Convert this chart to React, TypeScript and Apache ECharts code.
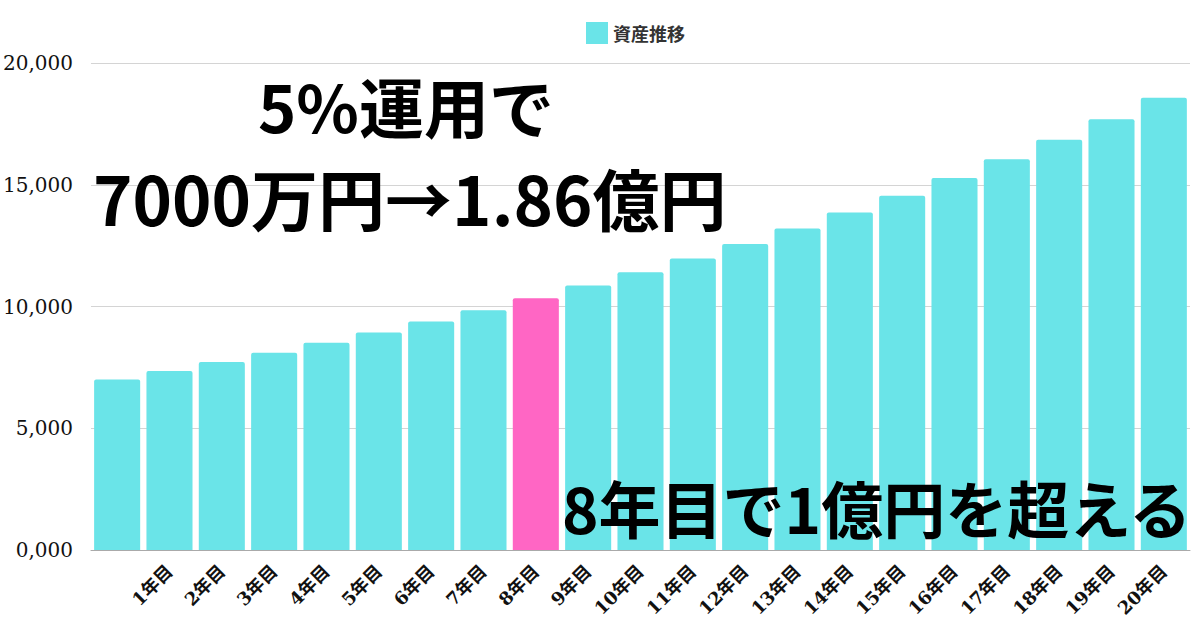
import React, { useEffect, useRef } from "react";
import * as echarts from "echarts";

const categories = ["", "1年目", "2年目", "3年目", "4年目", "5年目", "6年目", "7年目", "8年目", "9年目", "10年目", "11年目", "12年目", "13年目", "14年目", "15年目", "16年目", "17年目", "18年目", "19年目", "20年目"];
const values = [7000, 7350, 7718, 8103, 8509, 8934, 9381, 9850, 10342, 10859, 11402, 11972, 12571, 13199, 13859, 14552, 15280, 16044, 16846, 17688, 18573];
const highlightIndex = 8;
const yTicks = [0, 5000, 10000, 15000, 20000];
const seriesName = "資産推移";
const title1 = "5%運用で";
const title2 = "7000万円→1.86億円";
const title3 = "8年目で1億円を超える";

const CYAN = "#6AE4E8";
const PINK = "#FF66C4";
const CJK = "'Noto Sans CJK JP', 'Noto Sans', sans-serif";
const SERIF = "'DejaVu Serif', 'Noto Sans CJK JP', serif";

export default function App() {
  const ref = useRef<HTMLDivElement>(null);
  useEffect(() => {
    if (!ref.current) return;
    const chart = echarts.init(ref.current, undefined, { renderer: "svg" });
    chart.setOption({
      animation: false,
      backgroundColor: "#ffffff",
      legend: {
        top: 17,
        left: 581,
        itemWidth: 22,
        itemHeight: 22,
        itemGap: 9,
        textStyle: { fontFamily: CJK, fontSize: 18, fontWeight: "bold", color: "#333" },
        data: [{ name: seriesName, icon: "rect" }],
      },
      grid: { left: 90, right: 10, top: 63, bottom: 80 },
      xAxis: {
        type: "category",
        data: categories,
        axisTick: { show: false },
        axisLine: { lineStyle: { color: "#aaa" } },
        axisLabel: {
          rotate: 45,
          interval: 0,
          fontFamily: SERIF,
          fontSize: 18,
          fontWeight: "bold",
          color: "#111",
          margin: 18,
        },
      },
      yAxis: {
        type: "value",
        min: yTicks[0],
        max: yTicks[yTicks.length - 1],
        interval: 5000,
        axisLine: { show: false },
        axisTick: { show: false },
        splitLine: { lineStyle: { color: "#d4d4d4" } },
        axisLabel: {
          margin: 18,
          fontFamily: SERIF,
          fontSize: 20,
          color: "#111",
          formatter: (v: number) => (v === 0 ? "0,000" : v.toLocaleString("en-US")),
        },
      },
      series: [
        {
          name: seriesName,
          type: "bar",
          barCategoryGap: "12%",
          itemStyle: { color: CYAN, borderRadius: [2, 2, 0, 0] },
          data: values.map((v, i) =>
            i === highlightIndex ? { value: v, itemStyle: { color: PINK } } : v
          ),
        },
      ],
      graphic: [
        {
          type: "text",
          left: 258,
          top: 72,
          z: 100,
          style: { text: title1, fontFamily: CJK, fontSize: 65, lineHeight: 65, fontWeight: "bold", fill: "#000" },
        },
        {
          type: "text",
          left: 93,
          top: 163,
          z: 100,
          style: { text: title2, fontFamily: CJK, fontSize: 67, lineHeight: 67, fontWeight: "bold", fill: "#000" },
        },
        {
          type: "text",
          left: 562,
          top: 476,
          z: 100,
          style: { text: title3, fontFamily: CJK, fontSize: 62, lineHeight: 62, fontWeight: "bold", fill: "#000" },
        },
      ],
    });
    return () => chart.dispose();
  }, []);
  return <div ref={ref} style={{ width: 1200, height: 630, position: "absolute", left: 0, top: 0 }} />;
}
